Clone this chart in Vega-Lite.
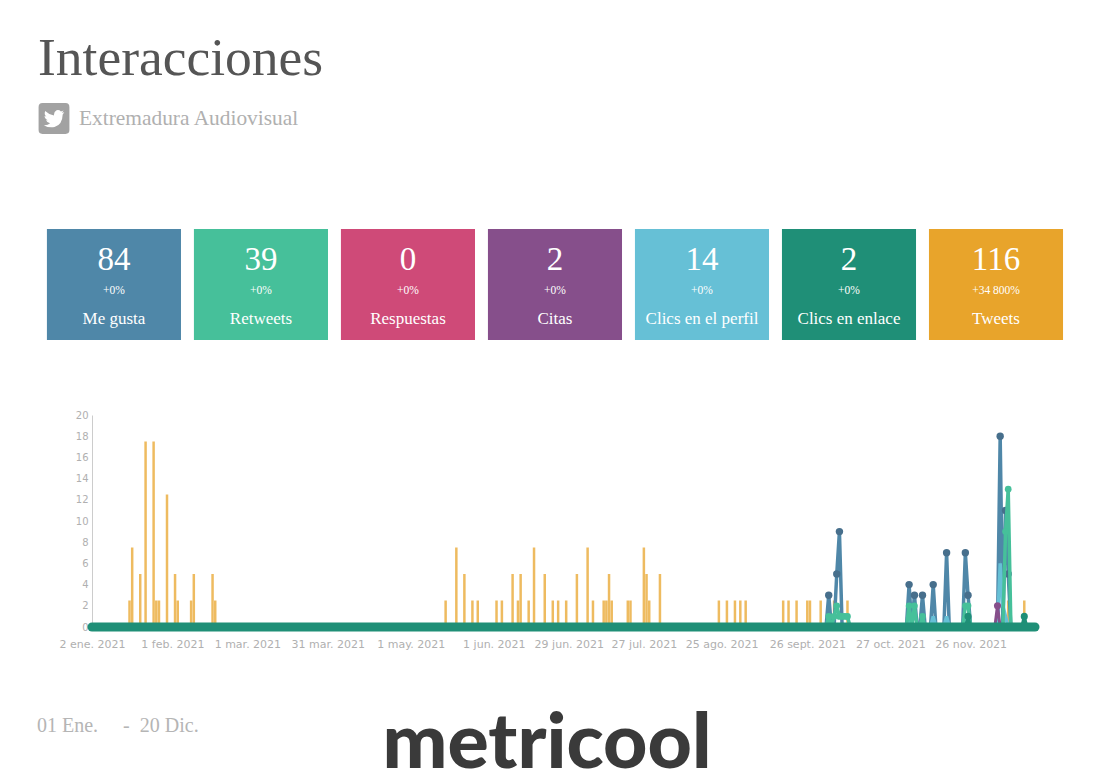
{
"$schema":"https://vega.github.io/schema/vega-lite/v6.json",
"background":"white","padding":0,"spacing":0,"bounds":"flush",
"config":{"view":{"stroke":null}},
"datasets":{
"tarjetas":[
{"metrica":"Me gusta","total":"84","cambio":"+0%"},
{"metrica":"Retweets","total":"39","cambio":"+0%"},
{"metrica":"Respuestas","total":"0","cambio":"+0%"},
{"metrica":"Citas","total":"2","cambio":"+0%"},
{"metrica":"Clics en el perfil","total":"14","cambio":"+0%"},
{"metrica":"Clics en enlace","total":"2","cambio":"+0%"},
{"metrica":"Tweets","total":"116","cambio":"+34 800%"}],
"serie":[
{"dia":"2021-01-16","serie":"Tweets","valor":2.5},{"dia":"2021-01-17","serie":"Tweets","valor":7.5},{"dia":"2021-01-20","serie":"Tweets","valor":5},{"dia":"2021-01-22","serie":"Tweets","valor":17.5},{"dia":"2021-01-25","serie":"Tweets","valor":17.5},{"dia":"2021-01-26","serie":"Tweets","valor":2.5},{"dia":"2021-01-27","serie":"Tweets","valor":2.5},{"dia":"2021-01-30","serie":"Tweets","valor":12.5},{"dia":"2021-02-02","serie":"Tweets","valor":5},{"dia":"2021-02-03","serie":"Tweets","valor":2.5},{"dia":"2021-02-08","serie":"Tweets","valor":2.5},{"dia":"2021-02-09","serie":"Tweets","valor":5},{"dia":"2021-02-16","serie":"Tweets","valor":5},{"dia":"2021-02-17","serie":"Tweets","valor":2.5},
{"dia":"2021-05-14","serie":"Tweets","valor":2.5},{"dia":"2021-05-18","serie":"Tweets","valor":7.5},{"dia":"2021-05-21","serie":"Tweets","valor":5},{"dia":"2021-05-24","serie":"Tweets","valor":2.5},{"dia":"2021-05-26","serie":"Tweets","valor":2.5},{"dia":"2021-06-02","serie":"Tweets","valor":2.5},{"dia":"2021-06-04","serie":"Tweets","valor":2.5},{"dia":"2021-06-08","serie":"Tweets","valor":5},{"dia":"2021-06-10","serie":"Tweets","valor":2.5},{"dia":"2021-06-11","serie":"Tweets","valor":5},{"dia":"2021-06-14","serie":"Tweets","valor":2.5},{"dia":"2021-06-16","serie":"Tweets","valor":7.5},{"dia":"2021-06-20","serie":"Tweets","valor":5},{"dia":"2021-06-23","serie":"Tweets","valor":2.5},{"dia":"2021-06-25","serie":"Tweets","valor":2.5},{"dia":"2021-06-28","serie":"Tweets","valor":2.5},{"dia":"2021-07-02","serie":"Tweets","valor":5},{"dia":"2021-07-06","serie":"Tweets","valor":7.5},{"dia":"2021-07-08","serie":"Tweets","valor":2.5},{"dia":"2021-07-12","serie":"Tweets","valor":2.5},{"dia":"2021-07-13","serie":"Tweets","valor":2.5},{"dia":"2021-07-14","serie":"Tweets","valor":5},{"dia":"2021-07-15","serie":"Tweets","valor":2.5},{"dia":"2021-07-21","serie":"Tweets","valor":2.5},{"dia":"2021-07-22","serie":"Tweets","valor":2.5},{"dia":"2021-07-27","serie":"Tweets","valor":7.5},{"dia":"2021-07-28","serie":"Tweets","valor":5},{"dia":"2021-07-29","serie":"Tweets","valor":2.5},{"dia":"2021-08-02","serie":"Tweets","valor":5},
{"dia":"2021-08-24","serie":"Tweets","valor":2.5},{"dia":"2021-08-27","serie":"Tweets","valor":2.5},{"dia":"2021-08-30","serie":"Tweets","valor":2.5},{"dia":"2021-09-01","serie":"Tweets","valor":2.5},{"dia":"2021-09-03","serie":"Tweets","valor":2.5},{"dia":"2021-09-17","serie":"Tweets","valor":2.5},{"dia":"2021-09-19","serie":"Tweets","valor":2.5},{"dia":"2021-09-22","serie":"Tweets","valor":2.5},{"dia":"2021-09-26","serie":"Tweets","valor":2.5},{"dia":"2021-09-27","serie":"Tweets","valor":2.5},{"dia":"2021-10-01","serie":"Tweets","valor":2.5},{"dia":"2021-10-06","serie":"Tweets","valor":2.5},{"dia":"2021-10-11","serie":"Tweets","valor":2.5},{"dia":"2021-12-10","serie":"Tweets","valor":2.5},{"dia":"2021-12-16","serie":"Tweets","valor":2.5},
{"dia":"2021-10-03","serie":"Me gusta","valor":0},{"dia":"2021-10-04","serie":"Me gusta","valor":3},{"dia":"2021-10-05","serie":"Me gusta","valor":0},{"dia":"2021-10-06","serie":"Me gusta","valor":0},{"dia":"2021-10-07","serie":"Me gusta","valor":5},{"dia":"2021-10-08","serie":"Me gusta","valor":9},{"dia":"2021-10-09","serie":"Me gusta","valor":0},{"dia":"2021-11-02","serie":"Me gusta","valor":0},{"dia":"2021-11-03","serie":"Me gusta","valor":4},{"dia":"2021-11-04","serie":"Me gusta","valor":0},{"dia":"2021-11-05","serie":"Me gusta","valor":3},{"dia":"2021-11-06","serie":"Me gusta","valor":0},{"dia":"2021-11-07","serie":"Me gusta","valor":0},{"dia":"2021-11-08","serie":"Me gusta","valor":3},{"dia":"2021-11-09","serie":"Me gusta","valor":0},{"dia":"2021-11-11","serie":"Me gusta","valor":0},{"dia":"2021-11-12","serie":"Me gusta","valor":4},{"dia":"2021-11-13","serie":"Me gusta","valor":0},{"dia":"2021-11-16","serie":"Me gusta","valor":0},{"dia":"2021-11-17","serie":"Me gusta","valor":7},{"dia":"2021-11-18","serie":"Me gusta","valor":0},{"dia":"2021-11-23","serie":"Me gusta","valor":0},{"dia":"2021-11-24","serie":"Me gusta","valor":7},{"dia":"2021-11-25","serie":"Me gusta","valor":3},{"dia":"2021-11-26","serie":"Me gusta","valor":0},{"dia":"2021-12-06","serie":"Me gusta","valor":0},{"dia":"2021-12-07","serie":"Me gusta","valor":18},{"dia":"2021-12-08","serie":"Me gusta","valor":0},{"dia":"2021-12-09","serie":"Me gusta","valor":11},{"dia":"2021-12-10","serie":"Me gusta","valor":5},{"dia":"2021-12-11","serie":"Me gusta","valor":0},
{"dia":"2021-11-02","serie":"Clics en el perfil","valor":0},{"dia":"2021-11-03","serie":"Clics en el perfil","valor":1},{"dia":"2021-11-04","serie":"Clics en el perfil","valor":0},{"dia":"2021-11-11","serie":"Clics en el perfil","valor":0},{"dia":"2021-11-12","serie":"Clics en el perfil","valor":1},{"dia":"2021-11-13","serie":"Clics en el perfil","valor":0},{"dia":"2021-11-16","serie":"Clics en el perfil","valor":0},{"dia":"2021-11-17","serie":"Clics en el perfil","valor":1},{"dia":"2021-11-18","serie":"Clics en el perfil","valor":0},{"dia":"2021-11-24","serie":"Clics en el perfil","valor":0},{"dia":"2021-11-25","serie":"Clics en el perfil","valor":1},{"dia":"2021-11-26","serie":"Clics en el perfil","valor":0},{"dia":"2021-12-06","serie":"Clics en el perfil","valor":0},{"dia":"2021-12-07","serie":"Clics en el perfil","valor":6},{"dia":"2021-12-08","serie":"Clics en el perfil","valor":2},{"dia":"2021-12-09","serie":"Clics en el perfil","valor":1},{"dia":"2021-12-10","serie":"Clics en el perfil","valor":0},
{"dia":"2021-10-03","serie":"Retweets","valor":0},{"dia":"2021-10-04","serie":"Retweets","valor":1},{"dia":"2021-10-05","serie":"Retweets","valor":0},{"dia":"2021-10-06","serie":"Retweets","valor":1},{"dia":"2021-10-07","serie":"Retweets","valor":2},{"dia":"2021-10-08","serie":"Retweets","valor":1},{"dia":"2021-10-09","serie":"Retweets","valor":1},{"dia":"2021-10-10","serie":"Retweets","valor":1},{"dia":"2021-10-11","serie":"Retweets","valor":1},{"dia":"2021-10-12","serie":"Retweets","valor":0},{"dia":"2021-11-02","serie":"Retweets","valor":0},{"dia":"2021-11-03","serie":"Retweets","valor":2},{"dia":"2021-11-04","serie":"Retweets","valor":0},{"dia":"2021-11-05","serie":"Retweets","valor":2},{"dia":"2021-11-06","serie":"Retweets","valor":0},{"dia":"2021-11-07","serie":"Retweets","valor":0},{"dia":"2021-11-08","serie":"Retweets","valor":1},{"dia":"2021-11-09","serie":"Retweets","valor":0},{"dia":"2021-11-23","serie":"Retweets","valor":0},{"dia":"2021-11-24","serie":"Retweets","valor":2},{"dia":"2021-11-25","serie":"Retweets","valor":2},{"dia":"2021-11-26","serie":"Retweets","valor":0},{"dia":"2021-12-08","serie":"Retweets","valor":0},{"dia":"2021-12-09","serie":"Retweets","valor":9},{"dia":"2021-12-10","serie":"Retweets","valor":13},{"dia":"2021-12-11","serie":"Retweets","valor":0},
{"dia":"2021-12-05","serie":"Citas","valor":0},{"dia":"2021-12-06","serie":"Citas","valor":2},{"dia":"2021-12-07","serie":"Citas","valor":0},
{"dia":"2021-01-02","serie":"Respuestas","valor":0},{"dia":"2021-12-20","serie":"Respuestas","valor":0},
{"dia":"2021-01-02","serie":"Clics en enlace","valor":0},{"dia":"2021-11-24","serie":"Clics en enlace","valor":0},{"dia":"2021-11-25","serie":"Clics en enlace","valor":1},{"dia":"2021-11-26","serie":"Clics en enlace","valor":0},{"dia":"2021-12-15","serie":"Clics en enlace","valor":0},{"dia":"2021-12-16","serie":"Clics en enlace","valor":1},{"dia":"2021-12-17","serie":"Clics en enlace","valor":0},{"dia":"2021-12-20","serie":"Clics en enlace","valor":0}
]},
"vconcat":[
{"width":1103,"height":229,
 "layer":[
 {"data":{"values":[{"texto":"Interacciones"}]},
  "mark":{"type":"text","align":"left","baseline":"alphabetic","font":"Liberation Serif","fontSize":53.5,"color":"#555555"},
  "encoding":{"text":{"field":"texto"},
   "x":{"field":"texto","type":"nominal","axis":null,"scale":{"type":"point","padding":0,"domain":["Interacciones","Extremadura Audiovisual"],"range":[38,79]}},
   "y":{"field":"texto","type":"nominal","axis":null,"scale":{"type":"point","padding":0,"domain":["Interacciones","Extremadura Audiovisual"],"range":[75,125]}}}},
 {"data":{"values":[{"texto":"Extremadura Audiovisual"}]},
  "mark":{"type":"text","align":"left","baseline":"alphabetic","font":"Liberation Serif","fontSize":21.4,"color":"#b0b0b0"},
  "encoding":{"text":{"field":"texto"},
   "x":{"field":"texto","type":"nominal","axis":null,"scale":{"type":"point","padding":0,"domain":["Interacciones","Extremadura Audiovisual"],"range":[38,79]}},
   "y":{"field":"texto","type":"nominal","axis":null,"scale":{"type":"point","padding":0,"domain":["Interacciones","Extremadura Audiovisual"],"range":[75,125]}}}},
 {"layer":[
  {"mark":{"type":"point","filled":true,"opacity":1,"size":950,"color":"#a2a2a2","shape":"M-0.75,-1H0.75Q1,-1,1,-0.75V0.75Q1,1,0.75,1H-0.75Q-1,1,-1,0.75V-0.75Q-1,-1,-0.75,-1Z"}},
  {"mark":{"type":"point","filled":true,"opacity":1,"size":420,"color":"white","shape":"M1,-0.62L0.76,-0.55L0.94,-0.78L0.68,-0.68Q0.5,-0.88,0.25,-0.8Q0,-0.68,0,-0.38Q-0.02,-0.3,0,-0.3Q-0.45,-0.35,-0.86,-0.74Q-1,-0.4,-0.74,-0.19L-0.92,-0.24Q-0.9,0.06,-0.6,0.17L-0.78,0.18Q-0.66,0.45,-0.38,0.47Q-0.62,0.68,-1,0.65Q-0.5,0.95,0.05,0.83Q0.82,0.6,0.85,-0.4Z"}}
  ],
  "data":{"values":[{"red":"Twitter"}]},
  "encoding":{
   "x":{"field":"red","type":"nominal","axis":null,"scale":{"type":"point","domain":["Twitter"],"range":[54,54]}},
   "y":{"field":"red","type":"nominal","axis":null,"scale":{"type":"point","domain":["Twitter"],"range":[118.5,118.5]}}}}
 ],
 "resolve":{"scale":{"x":"independent","y":"independent"}}
},
{"width":1103,"height":111,
 "data":{"name":"tarjetas"},
 "encoding":{
  "x":{"field":"metrica","type":"nominal","sort":null,"axis":null,"scale":{"type":"band","paddingInner":0.088,"paddingOuter":0.2955,"align":0.54}}},
 "layer":[
  {"mark":{"type":"rect"},"encoding":{"color":{"field":"metrica","type":"nominal","legend":null,"sort":null,"scale":{"domain":["Me gusta","Retweets","Respuestas","Citas","Clics en el perfil","Clics en enlace","Tweets"],"range":["#4f87a8","#46c09a","#cf4a78","#864f8b","#66c0d6","#1f8f77","#e8a42b"]}}}},
  {"mark":{"type":"text","font":"Liberation Serif","fontSize":33,"color":"white","dy":-25},"encoding":{"text":{"field":"total"}}},
  {"mark":{"type":"text","font":"Liberation Serif","fontSize":11.5,"color":"white","dy":6.5},"encoding":{"text":{"field":"cambio"}}},
  {"mark":{"type":"text","font":"Liberation Serif","fontSize":17,"color":"white","dy":34.5},"encoding":{"text":{"field":"metrica"}}}
 ]
},
{"width":1103,"height":287,
 "data":{"name":"serie"},
 "encoding":{
  "x":{"field":"dia","type":"temporal","title":null,
   "scale":{"type":"utc","padding":0,"domain":[{"year":2021,"month":1,"date":2,"utc":true},{"year":2021,"month":12,"date":20,"utc":true}],"range":[92,1035]},
   "axis":{"values":[{"year":2021,"month":1,"date":2,"utc":true},{"year":2021,"month":2,"date":1,"utc":true},{"year":2021,"month":3,"date":1,"utc":true},{"year":2021,"month":3,"date":31,"utc":true},{"year":2021,"month":5,"date":1,"utc":true},{"year":2021,"month":6,"date":1,"utc":true},{"year":2021,"month":6,"date":29,"utc":true},{"year":2021,"month":7,"date":27,"utc":true},{"year":2021,"month":8,"date":25,"utc":true},{"year":2021,"month":9,"date":26,"utc":true},{"year":2021,"month":10,"date":27,"utc":true},{"year":2021,"month":11,"date":26,"utc":true}],
    "labelExpr":"utcdate(datum.value)+' '+['ene.','feb.','mar.','abr.','may.','jun.','jul.','ago.','sept.','oct.','nov.','dic.'][utcmonth(datum.value)]+' '+utcyear(datum.value)",
    "grid":false,"ticks":false,"domainColor":"#d8d8d8","labelColor":"#b0b0b0","labelFont":"DejaVu Sans","labelFontSize":11,"labelPadding":11,"labelOverlap":false,"labelFlush":false}},
  "y":{"field":"valor","type":"quantitative","title":null,
   "scale":{"domain":[0,20],"range":[287,75],"nice":false},
   "axis":{"values":[0,2,4,6,8,10,12,14,16,18,20],"offset":-92,"grid":false,"ticks":false,"domainColor":"#cccccc","labelColor":"#b0b0b0","labelFont":"DejaVu Sans","labelFontSize":10,"labelPadding":4}},
  "color":{"field":"serie","type":"nominal","legend":null,"scale":{"domain":["Tweets","Me gusta","Clics en el perfil","Retweets","Citas","Respuestas","Clics en enlace"],"range":["#e9a52f","#4a83a8","#66c0d6","#3fc29a","#864f8b","#cf4a78","#1f8f74"]}}},
 "layer":[
  {"transform":[{"filter":"datum.serie === 'Tweets'"}],"mark":{"type":"bar","size":2.5,"opacity":0.75}},
  {"transform":[{"filter":"datum.serie === 'Me gusta'"}],"mark":{"type":"line","strokeWidth":3.5}},
  {"transform":[{"filter":"datum.serie === 'Me gusta' && datum.valor > 0"}],"mark":{"type":"point","filled":true,"size":55,"opacity":1,"color":"#476f8c"},"encoding":{"color":{"value":"#476f8c"}}},
  {"transform":[{"filter":"datum.serie === 'Clics en el perfil'"}],"mark":{"type":"line","strokeWidth":3.5}},
  {"transform":[{"filter":"datum.serie === 'Retweets'"}],"mark":{"type":"line","strokeWidth":3.5}},
  {"transform":[{"filter":"datum.serie === 'Retweets' && datum.valor > 0"}],"mark":{"type":"point","filled":true,"size":45,"opacity":1}},
  {"transform":[{"filter":"datum.serie === 'Citas'"}],"mark":{"type":"line","strokeWidth":3}},
  {"transform":[{"filter":"datum.serie === 'Citas' && datum.valor > 0"}],"mark":{"type":"point","filled":true,"size":50,"opacity":1}},
  {"transform":[{"filter":"datum.serie === 'Clics en enlace'"}],"mark":{"type":"line","strokeWidth":3}},
  {"transform":[{"filter":"datum.serie === 'Clics en enlace' && datum.valor > 0"}],"mark":{"type":"point","filled":true,"size":50,"opacity":1}},
  {"transform":[{"filter":"datum.serie === 'Clics en enlace' && datum.valor === 0"}],"mark":{"type":"line","strokeWidth":9,"strokeCap":"round"}}
 ]
},
{"width":1103,"height":151,
 "layer":[
 {"data":{"values":[{"texto":"01 Ene.\u00a0\u00a0\u00a0\u00a0\u00a0-\u00a0\u00a020 Dic."}]},
  "mark":{"type":"text","align":"left","baseline":"alphabetic","font":"Liberation Serif","fontSize":20,"color":"#b5b5b5"},
  "encoding":{"text":{"field":"texto"},
   "x":{"field":"texto","type":"nominal","axis":null,"scale":{"type":"point","padding":0,"domain":["01 Ene.\u00a0\u00a0\u00a0\u00a0\u00a0-\u00a0\u00a020 Dic.","metricool"],"range":[37,547]}},
   "y":{"field":"texto","type":"nominal","axis":null,"scale":{"type":"point","padding":0,"domain":["01 Ene.\u00a0\u00a0\u00a0\u00a0\u00a0-\u00a0\u00a020 Dic.","metricool"],"range":[105,141]}}}},
 {"data":{"values":[{"texto":"metricool"}]},
  "mark":{"type":"text","align":"center","baseline":"alphabetic","font":"Lato","fontWeight":900,"fontSize":77,"color":"#3a3a3a"},
  "encoding":{"text":{"field":"texto"},
   "x":{"field":"texto","type":"nominal","axis":null,"scale":{"type":"point","padding":0,"domain":["01 Ene.\u00a0\u00a0\u00a0\u00a0\u00a0-\u00a0\u00a020 Dic.","metricool"],"range":[37,547]}},
   "y":{"field":"texto","type":"nominal","axis":null,"scale":{"type":"point","padding":0,"domain":["01 Ene.\u00a0\u00a0\u00a0\u00a0\u00a0-\u00a0\u00a020 Dic.","metricool"],"range":[105,141]}}}}
 ]
}
]}
